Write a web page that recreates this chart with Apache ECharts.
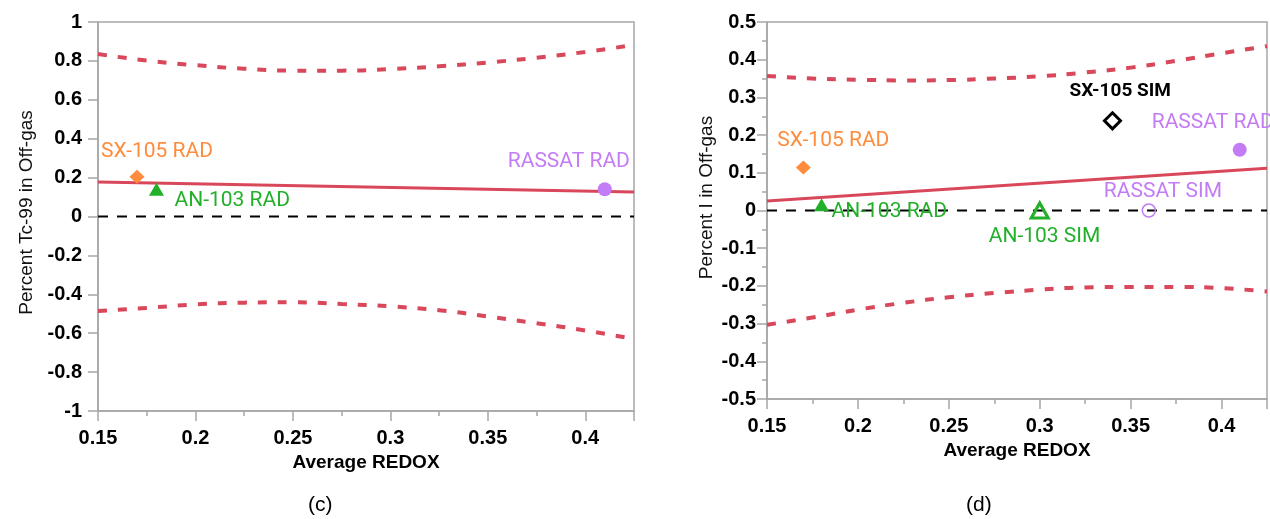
<!DOCTYPE html>
<html>
<head>
<meta charset="utf-8">
<script src="https://cdn.jsdelivr.net/npm/echarts@6/dist/echarts.min.js"></script>
<style>html,body{margin:0;padding:0;background:#fff;}#c{width:1270px;height:519px;}</style>
</head>
<body>
<div id="c"></div>
<script>
// ---------- data ----------
const bandX = [0.15, 0.175, 0.2, 0.225, 0.25, 0.275, 0.3, 0.325, 0.35, 0.375, 0.4, 0.425];
const fitX = [0.15, 0.425];

// (c) Tc-99
const tcUpper = [0.835, 0.802, 0.778, 0.760, 0.750, 0.750, 0.758, 0.772, 0.792, 0.816, 0.846, 0.882];
const tcLower = [-0.486, -0.470, -0.452, -0.443, -0.441, -0.450, -0.462, -0.482, -0.514, -0.549, -0.586, -0.630];
const tcFit = [0.178, 0.126];
const tcNames = ['SX-105 RAD', 'AN-103 RAD', 'RASSAT RAD'];
const tcX = [0.17, 0.18, 0.41];
const tcY = [0.205, 0.14, 0.14];

// (d) Iodine
const iUpper = [0.357, 0.350, 0.347, 0.345, 0.346, 0.350, 0.356, 0.366, 0.379, 0.397, 0.417, 0.436];
const iLower = [-0.303, -0.284, -0.263, -0.245, -0.230, -0.219, -0.210, -0.204, -0.203, -0.203, -0.206, -0.215];
const iFit = [0.025, 0.112];
const iNames = ['SX-105 RAD', 'AN-103 RAD', 'SX-105 SIM', 'AN-103 SIM', 'RASSAT RAD', 'RASSAT SIM'];
const iX = [0.17, 0.18, 0.34, 0.30, 0.41, 0.36];
const iY = [0.114, 0.015, 0.238, 0.0, 0.161, 0.0];

// ---------- styles ----------
const RED = '#d9475b', ORANGE = '#ff8c3c', GREEN = '#22b02a', PURPLE = '#c47cf6';
const FONT_LBL = 'Roboto, "Liberation Sans", sans-serif';
const FONT_AX = '"Liberation Sans", Arial, sans-serif';
const markStyle = {
  'SX-105 RAD': {symbol: 'diamond', size: [15, 14], fill: ORANGE, stroke: ORANGE, bw: 0, color: ORANGE, weight: 'normal', fs: 21},
  'AN-103 RAD': {symbol: 'triangle', size: [15, 13], fill: GREEN, stroke: GREEN, bw: 0, color: GREEN, weight: 'normal', fs: 21},
  'RASSAT RAD': {symbol: 'circle', size: 14, fill: PURPLE, stroke: PURPLE, bw: 0, color: PURPLE, weight: 'normal', fs: 21},
  'SX-105 SIM': {symbol: 'diamond', size: [16, 16], fill: 'rgba(0,0,0,0)', stroke: '#000', bw: 3, color: '#000', weight: 'bold', fs: 19},
  'AN-103 SIM': {symbol: 'triangle', size: [17, 15], fill: 'rgba(0,0,0,0)', stroke: GREEN, bw: 3, color: GREEN, weight: 'normal', fs: 21},
  'RASSAT SIM': {symbol: 'circle', size: 13, fill: 'rgba(0,0,0,0)', stroke: PURPLE, bw: 1.5, color: PURPLE, weight: 'normal', fs: 21}
};
const labelOffsetC = {'SX-105 RAD': [-36, -25], 'AN-103 RAD': [18, 11], 'RASSAT RAD': [-97, -28]};
const labelOffsetD = {'SX-105 RAD': [-26, -27], 'AN-103 RAD': [10, 7], 'SX-105 SIM': [-43, -30],
  'AN-103 SIM': [-51, 26], 'RASSAT RAD': [-88, -27], 'RASSAT SIM': [-45, -19]};

function isMajor(v) { const q = v / 0.05; return Math.abs(q - Math.round(q)) < 1e-6 && v < 0.42; }

const GRAY = '#a6a6a6';
function xAxes(gridIndex) {
  return [{
    type: 'value', gridIndex: gridIndex, min: 0.15, max: 0.425, interval: 0.05,
    name: 'Average REDOX', nameLocation: 'middle', nameGap: 41,
    nameTextStyle: {fontFamily: FONT_AX, fontSize: 19, fontWeight: 'bold', color: '#000'},
    axisLine: {show: true, onZero: false, lineStyle: {color: GRAY, width: 1.5}},
    axisTick: {show: true, length: 10, lineStyle: {color: GRAY, width: 1.5}},
    axisLabel: {margin: 17, fontFamily: FONT_AX, fontSize: 20, fontWeight: 'bold', color: '#000',
      formatter: v => isMajor(v) ? String(+v.toFixed(2)) : ''},
    splitLine: {show: false}
  }, {
    type: 'value', gridIndex: gridIndex, min: 0.15, max: 0.425, interval: 0.025, position: 'bottom',
    axisLine: {show: false, onZero: false},
    axisTick: {show: true, length: 5, lineStyle: {color: GRAY, width: 1.5}},
    axisLabel: {show: false}, splitLine: {show: false}
  }];
}

function yAxis(gridIndex, min, max, interval, name, gap, pad, margin, minor) {
  return {
    type: 'value', gridIndex: gridIndex, min: min, max: max, interval: interval,
    name: name, nameLocation: 'middle', nameGap: gap,
    nameTextStyle: {fontFamily: FONT_AX, fontSize: 19, color: '#111', padding: pad},
    axisLine: {show: true, lineStyle: {color: GRAY, width: 1.5}},
    axisTick: {show: true, length: 10, lineStyle: {color: GRAY, width: 1.5}},
    minorTick: {show: minor, splitNumber: 2, length: 5, lineStyle: {color: GRAY, width: 1.5}},
    axisLabel: {margin: margin, fontFamily: FONT_AX, fontSize: 20, fontWeight: 'bold', color: '#000'},
    splitLine: {show: false}, minorSplitLine: {show: false}
  };
}

function lineSeries(xi, yi, xs, ys, style, z, smooth) {
  return {
    type: 'line', xAxisIndex: xi, yAxisIndex: yi, data: xs.map((x, k) => [x, ys[k]]),
    symbol: 'none', smooth: smooth, lineStyle: style, z: z, silent: true, animation: false
  };
}

function pointSeries(xi, yi, names, xs, ys, offsets) {
  return names.map((n, k) => {
    const s = markStyle[n];
    return {
      type: 'scatter', xAxisIndex: xi, yAxisIndex: yi, name: n,
      data: [[xs[k], ys[k]]], symbol: s.symbol, symbolSize: s.size, z: 5, animation: false,
      itemStyle: {color: s.fill, borderColor: s.stroke, borderWidth: s.bw, opacity: 1},
      label: {show: true, formatter: n, position: 'inside', align: 'left', verticalAlign: 'middle',
        offset: offsets[n], color: s.color, fontFamily: FONT_LBL, fontSize: s.fs, fontWeight: s.weight}
    };
  });
}

const redDot = {color: RED, width: 4, type: [9, 11]};
const redSolid = {color: RED, width: 3, type: 'solid'};
const zeroDash = {color: '#000', width: 2, type: [10, 9]};

const option = {
  backgroundColor: '#fff',
  animation: false,
  grid: [
    {left: 98, top: 22, width: 536, height: 389, show: true, borderColor: GRAY, borderWidth: 1.5, backgroundColor: 'transparent'},
    {left: 767, top: 22, width: 502, height: 377, show: true, borderColor: GRAY, borderWidth: 1.5, backgroundColor: 'transparent'}
  ],
  xAxis: [...xAxes(0), ...xAxes(1)],
  yAxis: [
    yAxis(0, -1, 1, 0.2, 'Percent Tc-99 in Off-gas', 62, [0, 0, 0, 8], 16, false),
    yAxis(1, -0.5, 0.5, 0.1, 'Percent I in Off-gas', 51, [0, 0, 0, 26], 11, true)
  ],
  series: [
    lineSeries(0, 0, fitX, [0, 0], zeroDash, 2, false),
    lineSeries(0, 0, bandX, tcUpper, redDot, 3, true),
    lineSeries(0, 0, bandX, tcLower, redDot, 3, true),
    lineSeries(0, 0, fitX, tcFit, redSolid, 3, false),
    ...pointSeries(0, 0, tcNames, tcX, tcY, labelOffsetC),
    lineSeries(2, 1, fitX, [0, 0], zeroDash, 2, false),
    lineSeries(2, 1, bandX, iUpper, redDot, 3, true),
    lineSeries(2, 1, bandX, iLower, redDot, 3, true),
    lineSeries(2, 1, fitX, iFit, redSolid, 3, false),
    ...pointSeries(2, 1, iNames, iX, iY, labelOffsetD)
  ],
  graphic: [
    {type: 'text', left: 308, top: 495, style: {text: '(c)', font: '21px ' + FONT_AX, fill: '#000'}},
    {type: 'text', left: 966, top: 495, style: {text: '(d)', font: '21px ' + FONT_AX, fill: '#000'}}
  ]
};

const chart = echarts.init(document.getElementById('c'), null, {renderer: 'canvas'});
chart.setOption(option);
</script>
</body>
</html>
